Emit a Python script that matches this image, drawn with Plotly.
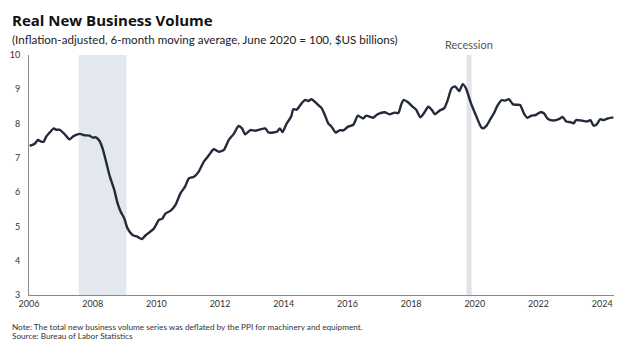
import plotly.graph_objects as go

# Real new business volume (6-month moving average), fractional years
years = [
    2006.02, 2006.18, 2006.28, 2006.39, 2006.46, 2006.54, 2006.65, 2006.78, 2006.86, 2006.95,
    2007.11, 2007.27, 2007.38, 2007.48, 2007.60, 2007.74, 2007.90, 2008.00, 2008.10, 2008.21,
    2008.31, 2008.42, 2008.54, 2008.68, 2008.78, 2008.88, 2008.99, 2009.09, 2009.25, 2009.40,
    2009.54, 2009.67, 2009.77, 2009.93, 2010.08, 2010.18, 2010.29, 2010.45, 2010.60, 2010.76,
    2010.90, 2011.02, 2011.18, 2011.33, 2011.49, 2011.65, 2011.80, 2011.96, 2012.12, 2012.27,
    2012.43, 2012.58, 2012.69, 2012.79, 2012.95, 2013.10, 2013.26, 2013.42, 2013.52, 2013.67,
    2013.78, 2013.88, 2013.96, 2014.09, 2014.23, 2014.30, 2014.40, 2014.56, 2014.67, 2014.77,
    2014.87, 2015.03, 2015.13, 2015.19, 2015.29, 2015.40, 2015.50, 2015.63, 2015.76, 2015.87,
    2016.02, 2016.18, 2016.33, 2016.49, 2016.59, 2016.80, 2016.96, 2017.17, 2017.32, 2017.48,
    2017.60, 2017.69, 2017.77, 2017.90, 2018.05, 2018.16, 2018.29, 2018.40, 2018.54, 2018.65,
    2018.75, 2018.88, 2019.04, 2019.15, 2019.27, 2019.38, 2019.51, 2019.62, 2019.72, 2019.88,
    2020.03, 2020.19, 2020.26, 2020.37, 2020.50, 2020.60, 2020.71, 2020.84, 2020.95, 2021.07,
    2021.20, 2021.33, 2021.42, 2021.54, 2021.65, 2021.78, 2021.91, 2022.06, 2022.17, 2022.30,
    2022.48, 2022.64, 2022.76, 2022.87, 2023.00, 2023.10, 2023.18, 2023.34, 2023.52, 2023.63,
    2023.73, 2023.83, 2023.94, 2024.04, 2024.18, 2024.35,
]
volume = [
    7.35, 7.41, 7.52, 7.47, 7.47, 7.62, 7.74, 7.86, 7.82, 7.82,
    7.70, 7.54, 7.62, 7.67, 7.70, 7.66, 7.65, 7.59, 7.60, 7.50,
    7.28, 6.89, 6.45, 6.06, 5.68, 5.43, 5.24, 4.95, 4.75, 4.70,
    4.63, 4.75, 4.82, 4.95, 5.19, 5.22, 5.38, 5.46, 5.63, 5.97,
    6.16, 6.40, 6.45, 6.60, 6.89, 7.08, 7.25, 7.18, 7.23, 7.52,
    7.70, 7.93, 7.86, 7.69, 7.81, 7.79, 7.83, 7.86, 7.74, 7.74,
    7.76, 7.86, 7.75, 8.00, 8.20, 8.42, 8.40, 8.59, 8.69, 8.66,
    8.71, 8.59, 8.50, 8.45, 8.25, 8.00, 7.91, 7.74, 7.81, 7.80,
    7.91, 7.96, 8.23, 8.15, 8.23, 8.17, 8.28, 8.33, 8.27, 8.32,
    8.31, 8.56, 8.69, 8.62, 8.49, 8.40, 8.18, 8.30, 8.49, 8.40,
    8.27, 8.37, 8.45, 8.69, 9.03, 9.08, 8.95, 9.15, 9.03, 8.59,
    8.25, 7.91, 7.86, 7.94, 8.15, 8.30, 8.52, 8.68, 8.67, 8.71,
    8.56, 8.55, 8.54, 8.30, 8.17, 8.23, 8.25, 8.33, 8.30, 8.13,
    8.09, 8.13, 8.19, 8.06, 8.04, 8.01, 8.10, 8.09, 8.06, 8.10,
    7.94, 7.98, 8.13, 8.10, 8.15, 8.18,
]

# Recession bands (start, end) on the same year scale
recessions = [(2007.56, 2009.06), (2019.74, 2019.90)]
recession_colors = ["#e3e7ee", "#e2e3e8"]

x_ticks = list(range(2006, 2025, 2))
y_ticks = list(range(3, 11))

W, H = 624, 347
L, R, T, B = 26, 10, 55, 52
pw, ph = W - L - R, H - T - B


def px_x(p):
    return (p - L) / pw


def px_y(p):
    return (H - B - p) / ph


fig = go.Figure()

for (x0, x1), col in zip(recessions, recession_colors):
    fig.add_shape(type="rect", xref="x", yref="paper", x0=x0, x1=x1, y0=0, y1=1,
                  fillcolor=col, line_width=0, layer="below")

fig.add_trace(go.Scatter(
    x=years, y=volume, mode="lines",
    line=dict(color="#232b3b", width=2.4, shape="spline", smoothing=0.6),
    hoverinfo="skip", showlegend=False,
))

font_main = "Lato, 'Open Sans', sans-serif"

annotations = [
    dict(text="<b>Real New Business Volume</b>", x=px_x(7), y=px_y(20),
         font=dict(size=15, color="#111111", family="'Open Sans', sans-serif")),
    dict(text="(Inflation-adjusted, 6-month moving average, June 2020 = 100, $US billions)",
         x=px_x(7), y=px_y(39), font=dict(size=11.6, color="#222222", family=font_main)),
    dict(text="Note: The total new business volume series was deflated by the PPI for machinery and equipment.",
         x=px_x(7), y=px_y(327), font=dict(size=8.2, color="#333333", family=font_main)),
    dict(text="Source: Bureau of Labor Statistics",
         x=px_x(7), y=px_y(336), font=dict(size=8.2, color="#333333", family=font_main)),
]
for a in annotations:
    a.update(xref="paper", yref="paper", xanchor="left", yanchor="middle", showarrow=False)

annotations.append(dict(
    text="Recession", x=2019.82, xref="x", y=px_y(45), yref="paper",
    xanchor="center", yanchor="middle", showarrow=False,
    font=dict(size=11, color="#555555", family=font_main),
))

fig.update_layout(
    width=W, height=H,
    margin=dict(l=L, r=R, t=T, b=B),
    paper_bgcolor="white", plot_bgcolor="white",
    annotations=annotations,
    xaxis=dict(
        range=[2006, 2024.37], tickvals=x_ticks, ticktext=[str(v) for v in x_ticks],
        showgrid=False, zeroline=False, showline=True, linecolor="#8a8a8a", linewidth=1,
        ticks="", tickfont=dict(size=9, color="#333333", family=font_main),
    ),
    yaxis=dict(
        range=[3, 10], tickvals=y_ticks,
        showgrid=False, zeroline=False, showline=True, linecolor="#8a8a8a", linewidth=1,
        ticks="", ticklabelstandoff=6, tickfont=dict(size=9, color="#333333", family=font_main),
    ),
)

fig.write_html("out.html")
